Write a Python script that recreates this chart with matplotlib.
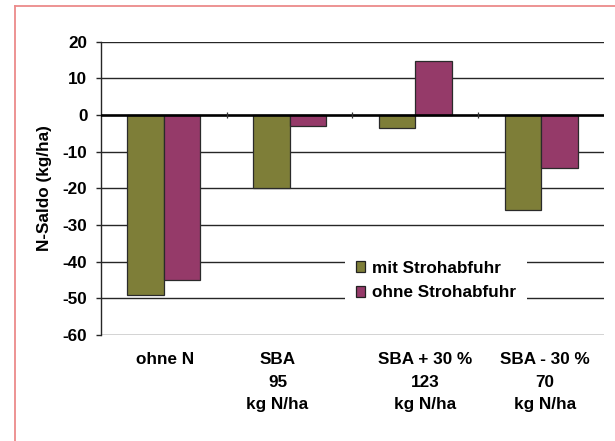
import matplotlib
matplotlib.use("Agg")
import matplotlib.pyplot as plt
import matplotlib.transforms as mtransforms
from matplotlib.lines import Line2D
import numpy as np

plt.rcParams['font.family'] = ['Liberation Sans', 'DejaVu Sans']
plt.rcParams['font.weight'] = 'bold'

categories = ["ohne N", "SBA\n95\nkg N/ha", "SBA + 30 %\n123\nkg N/ha", "SBA - 30 %\n70\nkg N/ha"]
series_names = ["mit Strohabfuhr", "ohne Strohabfuhr"]
mit_stroh = [-49, -20, -3.6, -26]
ohne_stroh = [-45, -3, 14.8, -14.5]
yticks = [20, 10, 0, -10, -20, -30, -40, -50, -60]

green = '#7e7e38'
magenta = '#953a69'

W, H = 615, 441
fig = plt.figure(figsize=(W / 100, H / 100), dpi=100)
ax = fig.add_axes([100.8 / W, 1 - 335 / H, (604 - 100.8) / W, (335 - 41.6) / H])

x = np.arange(len(categories))
bw = 0.29
ax.bar(x - bw / 2, mit_stroh, bw, color=green, edgecolor='#2a2a2a', linewidth=0.9,
       label=series_names[0], zorder=3)
ax.bar(x + bw / 2, ohne_stroh, bw, color=magenta, edgecolor='#2a2a2a', linewidth=0.9,
       label=series_names[1], zorder=3)

ax.set_xlim(-0.5, len(categories) - 0.5)
ax.set_ylim(min(yticks), max(yticks))
ax.set_yticks(yticks)
ax.set_yticklabels([str(t) for t in yticks])

for t in yticks:
    if t == 0:
        continue
    ax.axhline(t, color='#262626', linewidth=1.0, zorder=1)
ax.axhline(0, color='black', linewidth=1.9, zorder=4)

# small tick marks on the zero line at the category boundaries
bounds = x[:-1] + 0.5
ax.plot(bounds, np.zeros_like(bounds), linestyle='none', marker='|', markersize=5,
        color='#333333', markeredgewidth=0.9, zorder=4, clip_on=False)

for s in ['top', 'right', 'bottom']:
    ax.spines[s].set_visible(False)
ax.spines['left'].set_color('#262626')
ax.spines['left'].set_linewidth(1.0)

ax.tick_params(axis='y', direction='out', length=3.6, width=1.0, color='#262626',
               pad=6, labelsize=12.3)
ax.tick_params(axis='x', length=0, pad=12.5, labelsize=12.3)
ax.set_xticks(x)
ax.set_xticklabels(categories, linespacing=1.62)
offsets_px = [1, -12, 10, 4]
for lab, dx in zip(ax.get_xticklabels(), offsets_px):
    lab.set_multialignment('center')
    lab.set_transform(lab.get_transform() + mtransforms.ScaledTranslation(dx / 100, 0, fig.dpi_scale_trans))

fig.text(45 / W, 1 - 188 / H, "N-Saldo (kg/ha)", rotation=90, ha='center', va='center',
         fontsize=12.3, fontweight='bold')

leg = ax.legend(loc='center', bbox_to_anchor=(436 / W, 1 - 280.5 / H),
                bbox_transform=fig.transFigure, frameon=True, fancybox=False,
                edgecolor='none', facecolor='white', framealpha=1,
                handlelength=0.55, handleheight=0.55, handletextpad=0.4,
                labelspacing=0.58, borderpad=0.65, fontsize=12.3)
leg.set_zorder(5)
for h in leg.legend_handles:
    h.set_edgecolor('#222222')
    h.set_linewidth(0.9)

# pink border of the chart area
bc = '#ec8a8a'
fig.add_artist(Line2D([14.5 / W, 14.5 / W], [0, 1 - 6 / H], color=bc, linewidth=1.3,
                      transform=fig.transFigure))
fig.add_artist(Line2D([14.5 / W, 1.0], [1 - 6 / H, 1 - 6 / H], color=bc, linewidth=1.3,
                      transform=fig.transFigure))

fig.savefig('out.png', dpi=100)
